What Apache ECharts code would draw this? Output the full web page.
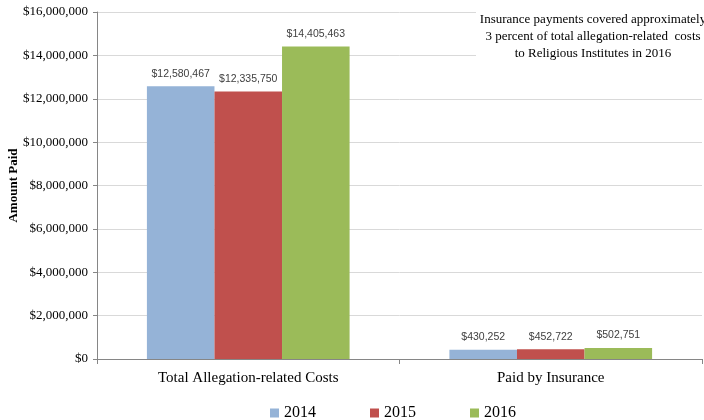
<!DOCTYPE html>
<html>
<head>
<meta charset="utf-8">
<script src="https://cdn.jsdelivr.net/npm/echarts@6/dist/echarts.min.js"></script>
<style>
  html, body { margin: 0; padding: 0; background: #fff; }
  #chart { width: 704px; height: 420px; }
</style>
</head>
<body>
<div id="chart"></div>
<script>
// chart data
var categories = ['Total Allegation-related Costs', 'Paid by Insurance'];
var years = ['2014', '2015', '2016'];
var values2014 = [12580467, 430252];
var values2015 = [12335750, 452722];
var values2016 = [14405463, 502751];
var colors = ['#95B3D7', '#C0504D', '#9BBB59'];

var serif = '"Liberation Serif", "Times New Roman", serif';
var sans = '"Liberation Sans", "DejaVu Sans", sans-serif';

function money(v) {
  return '$' + Math.round(v).toString().replace(/\B(?=(\d{3})+(?!\d))/g, ',');
}

var myChart = echarts.init(document.getElementById('chart'));

function makeSeries(name, data, i) {
  return {
    name: name,
    type: 'bar',
    data: data,
    barGap: '0%',
    barCategoryGap: '33%',
    itemStyle: { color: colors[i] },
    label: {
      show: true,
      position: 'top',
      distance: 7,
      fontFamily: sans,
      fontSize: 10.5,
      color: '#404040',
      formatter: function (p) { return money(p.value); }
    }
  };
}

var option = {
  animation: false,
  backgroundColor: '#fff',
  grid: { left: 97, right: 2, top: 12, bottom: 61, outerBoundsMode: 'none' },
  legend: {
    data: years,
    top: 400,
    left: 265,
    itemWidth: 9,
    itemHeight: 9,
    itemGap: 54,
    icon: 'rect',
    textStyle: { fontFamily: serif, fontSize: 16, color: '#000' }
  },
  graphic: [{
    type: 'rect',
    shape: { x: 476, y: 4, width: 228, height: 58 },
    style: { fill: '#fff' },
    z: 10
  }, {
    type: 'text',
    x: 593,
    y: 11,
    z: 11,
    style: {
      text: 'Insurance payments covered approximately\n3 percent of total allegation-related  costs\nto Religious Institutes in 2016',
      font: '13px ' + serif,
      fill: '#000',
      textAlign: 'center',
      lineHeight: 17
    }
  }],
  xAxis: {
    type: 'category',
    data: categories,
    axisLine: { lineStyle: { color: '#868686' } },
    axisTick: { show: true, length: 5, lineStyle: { color: '#868686' } },
    axisLabel: { fontFamily: serif, fontSize: 15, color: '#000', margin: 12 }
  },
  yAxis: {
    type: 'value',
    min: 0,
    max: 16000000,
    interval: 2000000,
    name: 'Amount Paid',
    nameLocation: 'middle',
    nameGap: 77,
    nameMoveOverlap: false,
    nameTextStyle: { fontFamily: serif, fontSize: 13, fontWeight: 'bold', color: '#000' },
    axisLine: { show: true, lineStyle: { color: '#868686' } },
    axisTick: { show: true, length: 4, lineStyle: { color: '#868686' } },
    axisLabel: {
      fontFamily: serif,
      fontSize: 13,
      color: '#000',
      margin: 9,
      formatter: function (v) { return money(v); }
    },
    splitLine: { lineStyle: { color: '#D9D9D9' } }
  },
  series: [
    makeSeries(years[0], values2014, 0),
    makeSeries(years[1], values2015, 1),
    makeSeries(years[2], values2016, 2)
  ]
};

myChart.setOption(option);
</script>
</body>
</html>
